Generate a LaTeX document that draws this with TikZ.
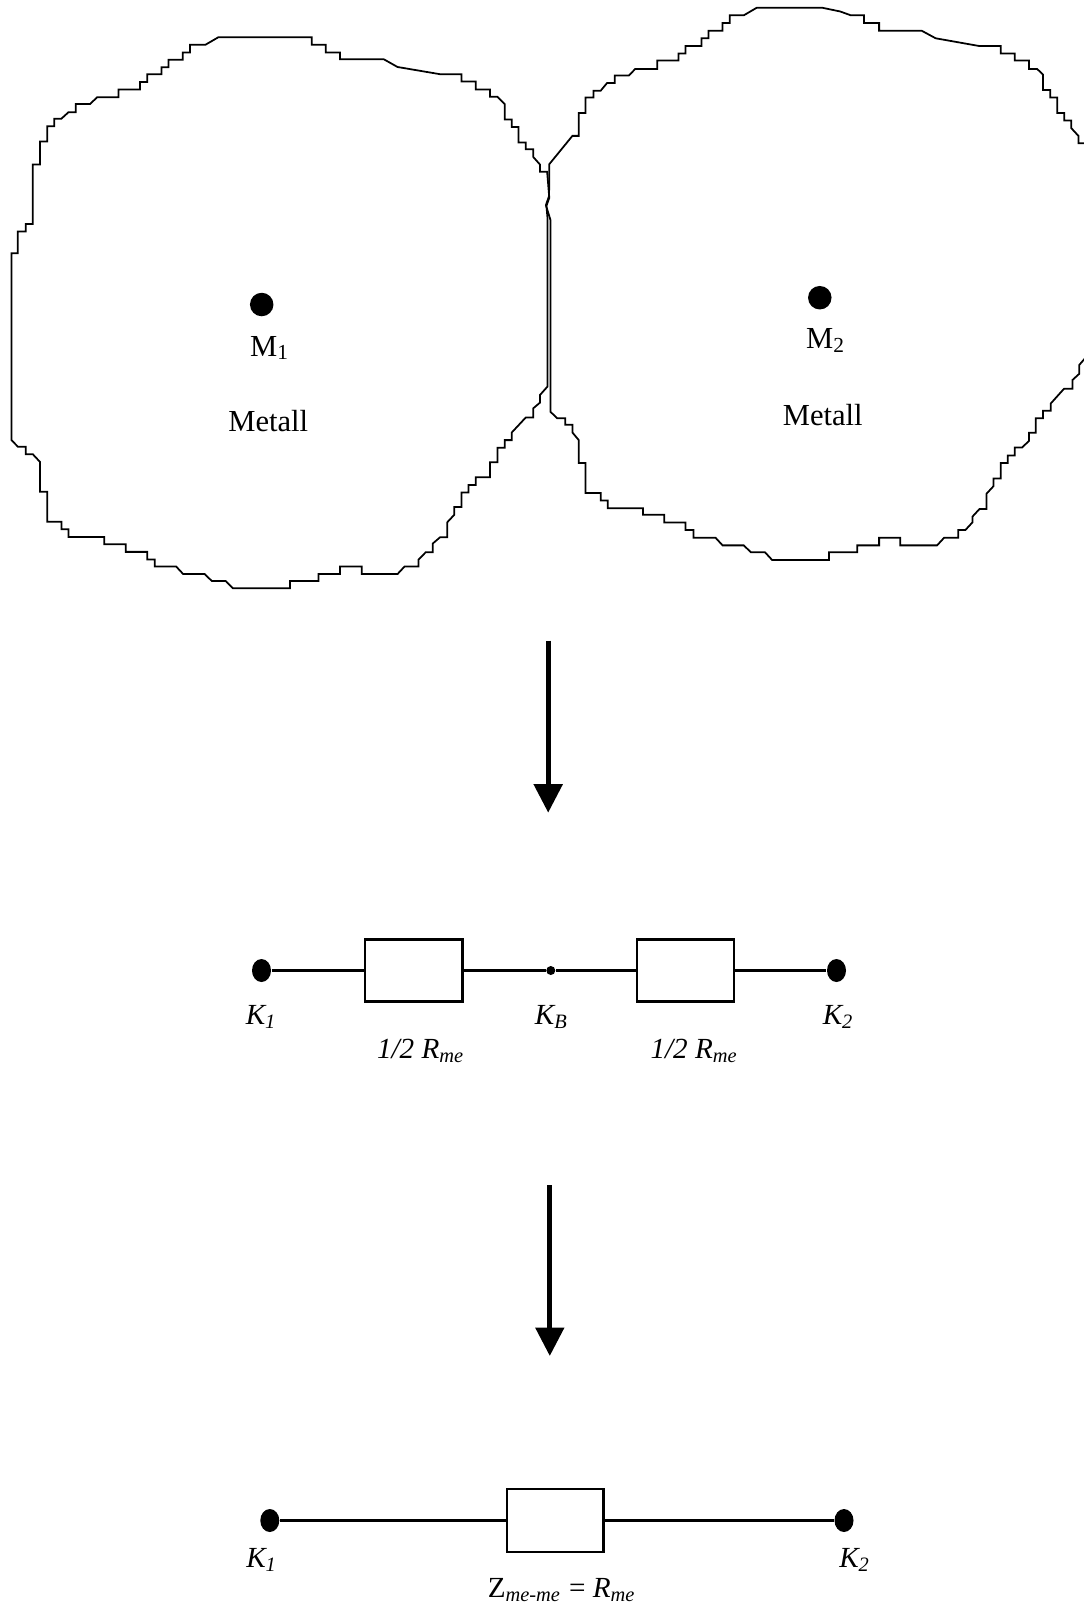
\documentclass[tikz,border=0pt]{standalone}
\usepackage{fontspec}
\setmainfont{Liberation Serif}
\usetikzlibrary{arrows.meta,shapes.geometric}
\begin{document}
\begin{tikzpicture}[x=0.1mm,y=-0.1mm,
  outline/.style={line width=0.5pt, line join=miter},
  wire/.style={line width=0.6pt},
  resistor/.style={draw, line width=0.6pt, rectangle, inner sep=0pt,
    minimum width=9.74mm, minimum height=6.2mm},
  terminal/.style={ellipse, fill=black, inner sep=0pt,
    minimum width=1.9mm, minimum height=2.3mm},
  joint/.style={circle, fill=black, inner sep=0pt, minimum size=0.9mm},
  centre/.style={circle, fill=black, inner sep=0pt, minimum size=2.35mm},
  bigtext/.style={font=\fontsize{8.7}{10}\selectfont, inner sep=0pt, anchor=base},
  lbl/.style={font=\fontsize{8.3}{10}\selectfont\itshape, inner sep=0pt, anchor=base},
  flow/.style={line width=1.45pt, -{Triangle[width=2.8mm,length=2.85mm]}}
]
\useasboundingbox (0,0) rectangle (1084,1611);
\clip (0,0) rectangle (1084,1611);

% grain outline of the first metal particle
\begin{scope}[xscale=0.357143, yscale=0.382702]
\draw[outline] (612,97) -- (873,97) -- (873,117) -- (912,117) -- (912,137) -- (952,137)
 -- (952,155) -- (1075,155) -- (1113,175) -- (1233,194) -- (1292,194) -- (1292,213)
 -- (1332,213) -- (1332,234) -- (1372,234) -- (1372,253) -- (1393,253) -- (1413,272)
 -- (1413,312) -- (1433,312) -- (1433,332) -- (1452,332) -- (1452,372) -- (1472,372)
 -- (1472,390) -- (1493,390) -- (1493,410) -- (1512,430) -- (1512,449) -- (1532,449)
 -- (1538,517) -- (1530,538) -- (1533,570) -- (1533,1010) -- (1512,1032) -- (1512,1052)
 -- (1493,1067) -- (1493,1091) -- (1472,1091) -- (1433,1130) -- (1433,1150) -- (1413,1150)
 -- (1413,1170) -- (1393,1170) -- (1393,1208) -- (1372,1208) -- (1372,1247) -- (1332,1247)
 -- (1332,1267) -- (1312,1267) -- (1312,1287) -- (1292,1287) -- (1292,1325) -- (1272,1325)
 -- (1272,1345) -- (1252,1365) -- (1252,1404) -- (1232,1404) -- (1212,1420) -- (1212,1443)
 -- (1192,1443) -- (1172,1462) -- (1172,1480) -- (1133,1480) -- (1113,1500) -- (1013,1500)
 -- (1013,1480) -- (952,1480) -- (952,1500) -- (892,1500) -- (892,1518) -- (812,1518)
 -- (812,1537) -- (652,1537) -- (632,1518) -- (593,1518) -- (573,1500) -- (513,1500)
 -- (493,1480) -- (433,1480) -- (433,1462) -- (412,1462) -- (412,1442) -- (352,1442)
 -- (352,1422) -- (292,1422) -- (292,1403) -- (192,1403) -- (192,1383) -- (172,1383)
 -- (172,1363) -- (132,1363) -- (132,1285) -- (112,1285) -- (112,1207) -- (92,1187)
 -- (72,1187) -- (72,1167) -- (50,1167) -- (32,1150) -- (32,662) -- (50,662) -- (50,605)
 -- (72,605) -- (72,585) -- (92,585) -- (92,430) -- (112,430) -- (112,370) -- (132,370)
 -- (132,330) -- (152,330) -- (152,310) -- (172,310) -- (192,293) -- (212,293) -- (212,272)
 -- (252,272) -- (272,254) -- (332,254) -- (332,234) -- (392,234) -- (392,214) -- (412,214)
 -- (412,194) -- (452,194) -- (452,176) -- (472,176) -- (472,156) -- (512,156) -- (512,137)
 -- (532,137) -- (532,117) -- (575,117) -- cycle;
\end{scope}

% grain outline of the second metal particle
\begin{scope}[shift={(530,0)}, xscale=0.353357, yscale=0.382702]
\draw[outline] (642,20) -- (826,20) -- (878,30) -- (908,40) -- (945,40) -- (945,60)
 -- (988,60) -- (988,80) -- (1108,80) -- (1148,100) -- (1270,120) -- (1332,120)
 -- (1332,140) -- (1372,140) -- (1372,158) -- (1412,158) -- (1412,180) -- (1435,180)
 -- (1452,195) -- (1452,235) -- (1472,235) -- (1472,255) -- (1492,255) -- (1492,295)
 -- (1512,295) -- (1512,315) -- (1532,315) -- (1532,335) -- (1552,355) -- (1552,374)
 -- (1620,374) -- (1620,939) -- (1568,939) -- (1554,954) -- (1554,977) -- (1535,993)
 -- (1535,1016) -- (1511,1016) -- (1474,1054) -- (1474,1073) -- (1452,1073) -- (1452,1093)
 -- (1431,1093) -- (1431,1131) -- (1412,1131) -- (1412,1152) -- (1393,1169) -- (1372,1169)
 -- (1372,1190) -- (1352,1190) -- (1352,1210) -- (1332,1210) -- (1332,1250) -- (1312,1250)
 -- (1312,1270) -- (1292,1290) -- (1292,1330) -- (1272,1330) -- (1252,1350) -- (1252,1365)
 -- (1232,1385) -- (1212,1385) -- (1212,1405) -- (1172,1405) -- (1152,1425) -- (1048,1425)
 -- (1048,1405) -- (988,1405) -- (988,1425) -- (926,1425) -- (926,1443) -- (846,1443)
 -- (846,1463) -- (685,1463) -- (665,1443) -- (625,1443) -- (605,1425) -- (545,1425)
 -- (525,1405) -- (463,1405) -- (463,1385) -- (440,1385) -- (440,1365) -- (380,1365)
 -- (380,1345) -- (320,1345) -- (320,1328) -- (220,1328) -- (220,1308) -- (200,1308)
 -- (200,1288) -- (157,1288) -- (157,1210) -- (138,1210) -- (138,1150) -- (120,1130)
 -- (120,1110) -- (100,1110) -- (100,1093) -- (77,1093) -- (58,1076) -- (58,575)
 -- (45,536) -- (54,512) -- (54.6,429) -- (120,355) -- (138,355) -- (138,295) -- (157,295)
 -- (157,255) -- (180,255) -- (180,237) -- (200,237) -- (218,217) -- (240,217) -- (240,197)
 -- (280,197) -- (298,180) -- (360,180) -- (360,158) -- (420,158) -- (420,140) -- (440,140)
 -- (440,120) -- (485,120) -- (485,100) -- (505,100) -- (505,80) -- (545,80) -- (545,60)
 -- (565,60) -- (565,40) -- (605,40) -- cycle;
\end{scope}

% particle centres and names
\node[centre] (m1) at (261.7,304.5) {};
\node[bigtext] (m1name) at (270,356) {M\textsubscript{1}};
\node[bigtext] (met1) at (268.3,431.7) {Metall};
\node[centre] (m2) at (819.8,297.7) {};
\node[bigtext] (m2name) at (826,348.5) {M\textsubscript{2}};
\node[bigtext] (met2) at (822.8,425.4) {Metall};

% first step arrow
\coordinate (a1s) at (548.2,640.7);
\coordinate (a1e) at (548.2,812.7);
\draw[flow] (a1s) -- (a1e);

% two half resistances joined at the boundary node
\node[terminal] (k1a) at (261.5,970.5) {};
\node[resistor] (r1) at (413.8,970.5) {};
\node[joint] (kb) at (550.8,970.5) {};
\node[resistor] (r2) at (685.4,970.5) {};
\node[terminal] (k2a) at (836.5,970.5) {};
\draw[wire] (k1a) -- (r1) -- (kb) -- (r2) -- (k2a);
\node[lbl] (k1aname) at (261.5,1024.5) {K\textsubscript{1}};
\node[lbl] (kbname) at (551.7,1024.5) {K\textsubscript{B}};
\node[lbl] (k2aname) at (838.5,1024.5) {K\textsubscript{2}};
\node[lbl] (r1name) at (421,1058.5) {1/2 R\textsubscript{me}};
\node[lbl] (r2name) at (694.5,1058.5) {1/2 R\textsubscript{me}};

% second step arrow
\coordinate (a2s) at (549.8,1185);
\coordinate (a2e) at (549.8,1356);
\draw[flow] (a2s) -- (a2e);

% resulting single impedance
\node[terminal] (k1b) at (269.8,1520.5) {};
\node[resistor, minimum width=9.62mm, minimum height=6.27mm] (r3) at (555.4,1520.5) {};
\node[terminal] (k2b) at (844,1520.5) {};
\draw[wire] (k1b) -- (r3) -- (k2b);
\node[lbl] (k1bname) at (262,1567.5) {K\textsubscript{1}};
\node[lbl] (k2bname) at (855,1567.5) {K\textsubscript{2}};
\node[lbl] (r3name) at (562,1597.5) {\upshape Z\textsubscript{\itshape me-me} = \itshape R\textsubscript{me}};
\end{tikzpicture}
\end{document}
